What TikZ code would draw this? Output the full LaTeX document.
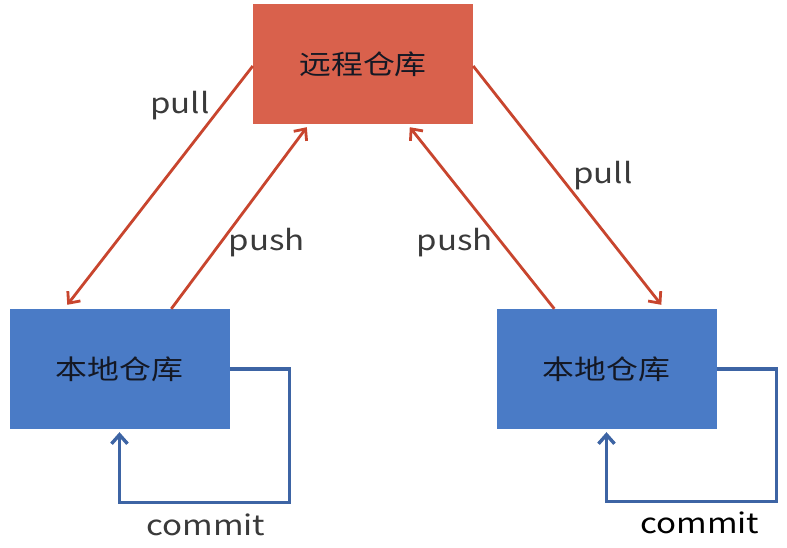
\documentclass[tikz,border=0pt]{standalone}
\usepackage{fontspec}
\setmainfont[FakeStretch=1.18]{Noto Sans CJK SC}
\usetikzlibrary{arrows.meta}
\definecolor{remotefill}{HTML}{D9614C}
\definecolor{localfill}{HTML}{4A7BC6}
\definecolor{redline}{HTML}{C8452E}
\definecolor{blueline}{HTML}{3D64A4}
\definecolor{labelgray}{HTML}{3A3A3A}
\definecolor{boxtext}{HTML}{141824}
\begin{document}
\begin{tikzpicture}[x=1pt,y=-1pt,
  repo/.style={rectangle, minimum width=220pt, minimum height=120pt, inner sep=0pt, font=\fontsize{27}{30}\selectfont, text=boxtext},
  remote/.style={repo, fill=remotefill},
  localrepo/.style={repo, fill=localfill},
  flow/.style={draw=redline, line width=2.8pt, -{Straight Barb[length=9pt,width=16pt,line width=2.8pt]}},
  cyc/.style={draw=blueline, line width=3.4pt, line join=miter, -{Straight Barb[length=9pt,width=16pt,line width=3.4pt]}},
  lbl/.style={anchor=base, inner sep=0pt, font=\fontsize{28}{30}\selectfont, text=labelgray}]
\useasboundingbox (0,0) rectangle (787,547);
\fill[white] (0,0) rectangle (787,547);
\node[remote] (R) at (363,64) {远程仓库};
\node[localrepo] (L) at (119.5,369) {本地仓库};
\node[localrepo] (Q) at (606.5,369) {本地仓库};
% left pair
\draw[flow] ([yshift=-2pt]R.west) -- ([xshift=58pt,yshift=4pt]L.north west);
\draw[flow] ([xshift=162pt]L.north west) -- ([xshift=54pt,yshift=-3pt]R.south west);
% right pair
\draw[flow] ([xshift=58pt]Q.north west) -- ([xshift=157pt,yshift=-3pt]R.south west);
\draw[flow] ([yshift=-2pt]R.east) -- ([xshift=165pt,yshift=4pt]Q.north west);
% commit loops
\draw[cyc] (L.east) -- ++(60,0) |- ([yshift=-73pt]L.south) -- ([yshift=-3pt]L.south);
\draw[cyc] (Q.east) -- ++(60,0) |- ([yshift=-72pt]Q.south) -- ([yshift=-3pt]Q.south);
% labels
\node[lbl] (t1) at (180,113) {pull};
\node[lbl] (t2) at (267,250) {push};
\node[lbl] (t3) at (455,250) {push};
\node[lbl] (t4) at (603,183) {pull};
\node[lbl] (t5) at (206,535) {commit};
\node[lbl, text=black] (t6) at (700,533) {commit};
\end{tikzpicture}
\end{document}
